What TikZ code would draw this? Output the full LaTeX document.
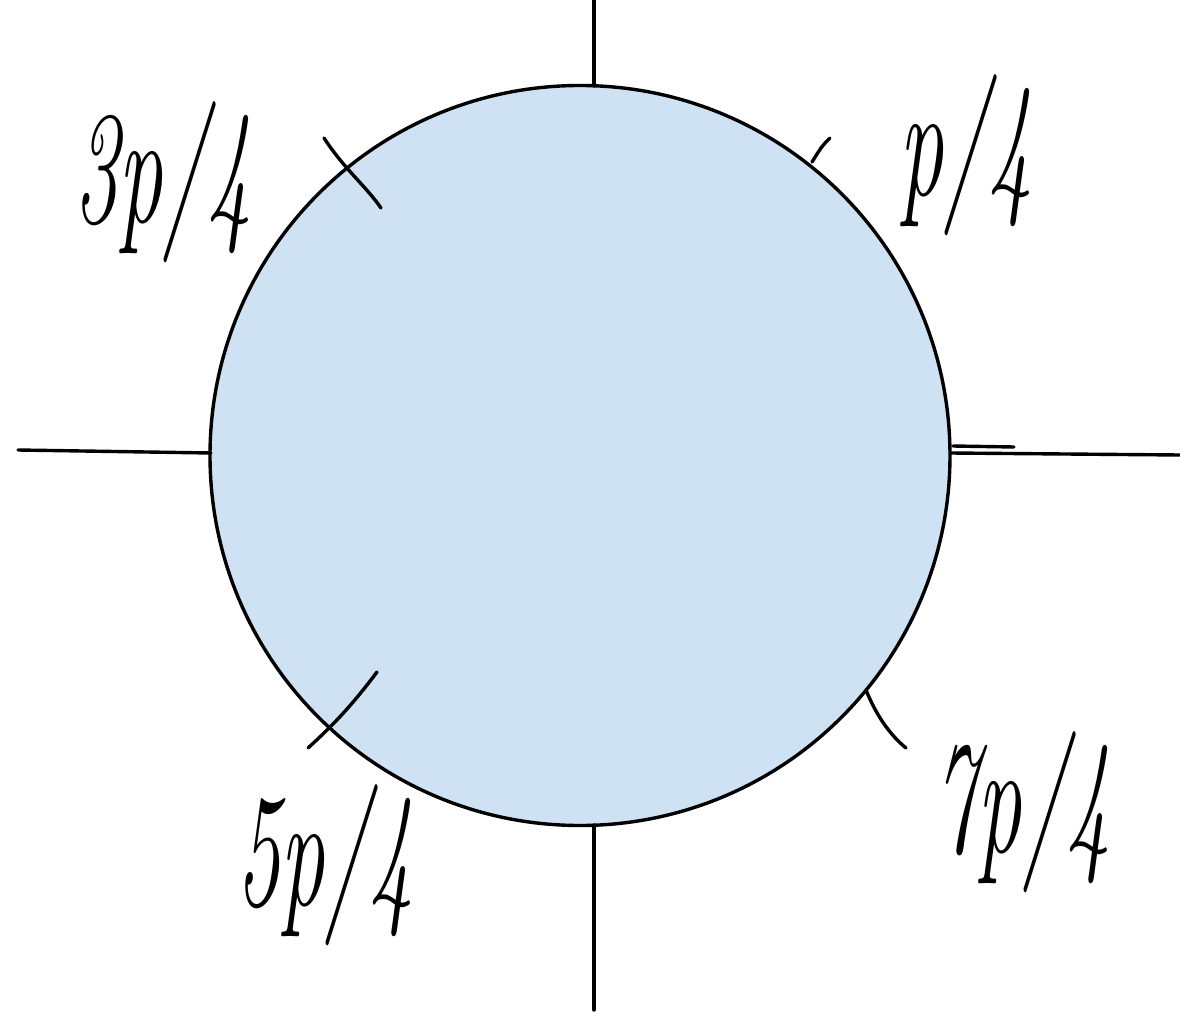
\documentclass[tikz,border=0pt]{standalone}
\begin{document}
\begin{tikzpicture}[x=0.5pt,y=-0.5pt,
  ln/.style={line width=1.7pt,line cap=round,black},
  lab/.style={font=\fontsize{52}{52}\selectfont\itshape,inner sep=0pt,xscale=0.85,yscale=1.55}]
\useasboundingbox (0,0) rectangle (1180,1012);
\node[circle,draw,line width=1.7pt,fill={rgb,255:red,207;green,226;blue,243},minimum size=370pt,inner sep=0pt] (c) at (580,455.5) {};
% axes
\coordinate (top) at (594,0);
\coordinate (topc) at (594,86);
\coordinate (bot) at (594,1010);
\coordinate (botc) at (594,825);
\coordinate (lft) at (18,450);
\coordinate (lftc) at (211,453);
\coordinate (rgt) at (1180,455);
\coordinate (rgtc) at (951,453);
\coordinate (rs1) at (953,446);
\coordinate (rs2) at (1014,447);
\draw[ln] (top) -- (topc);
\draw[ln] (botc) -- (bot);
\draw[ln] (lft) -- (lftc);
\draw[ln] (rgtc) -- (rgt);
\draw[ln] (rs1) -- (rs2);
% ticks
\coordinate (t1a) at (324,138); \coordinate (t1b) at (381,208);
\draw[ln] (t1a) .. controls (345,170) and (365,185) .. (t1b);
\coordinate (t2a) at (830,138); \coordinate (t2b) at (812,162);
\draw[ln] (t2a) .. controls (822,146) .. (t2b);
\coordinate (t3a) at (377,672); \coordinate (t3b) at (308,748);
\draw[ln] (t3a) .. controls (350,708) and (330,728) .. (t3b);
\coordinate (t4a) at (866,690); \coordinate (t4b) at (906,748);
\draw[ln] (t4a) .. controls (876,715) and (890,735) .. (t4b);
% labels
\node[lab] (l1) at (163,182) {3p/4};
\node[lab] (l2) at (966,155) {p/4};
\node[lab] (l3) at (325,865) {5p/4};
\node[lab] (l4) at (1022,812) {7p/4};
\end{tikzpicture}
\end{document}
